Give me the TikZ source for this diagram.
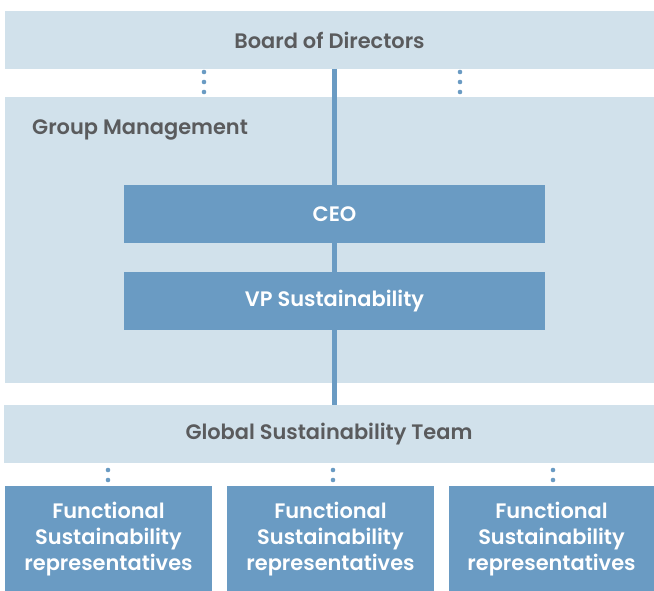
\documentclass[tikz,border=0pt]{standalone}
\usepackage{fontspec}
\setmainfont{Poppins}
\newfontfamily\medfont{Poppins SemiBold}
\definecolor{lightbox}{HTML}{D1E1EB}
\definecolor{darkbox}{HTML}{6A9BC3}
\definecolor{txtgray}{HTML}{5A5B5D}
\begin{document}
\begin{tikzpicture}[x=1bp,y=-1bp,
  lightnode/.style={fill=lightbox,draw=none,inner sep=0pt,text=txtgray,font=\medfont\fontsize{21}{26}\selectfont},
  darknode/.style={fill=darkbox,draw=none,inner sep=0pt,text=white,font=\medfont\fontsize{21}{26}\selectfont},
  stem/.style={draw=darkbox,line width=5bp},
  dotline/.style={draw=darkbox,line width=4.6bp,line cap=round,dash pattern=on 0bp off 10bp}]
\useasboundingbox (0,0) rectangle (654,591);
\node[lightnode,minimum width=649bp,minimum height=58bp] (board) at (329.5,40) {Board of Directors};
\node[lightnode,minimum width=649bp,minimum height=286bp] (gm) at (329.5,240) {};
\node[lightnode,anchor=base west] (gmlabel) at (32,135) {Group Management};
\node[lightnode,minimum width=650bp,minimum height=58bp] (gst) at (329,434) {Global Sustainability Team};
\coordinate (stemtop) at (334.5,69);
\draw[stem] (stemtop) -- (stemtop |- gst.north);
\node[darknode,minimum width=421bp,minimum height=58bp] (ceo) at (334.5,214) {CEO};
\node[darknode,minimum width=421bp,minimum height=58bp] (vp) at (334.5,301) {VP Sustainability};
\node[darknode,minimum width=207bp,minimum height=106bp,align=center] (f1) at (108.5,539) {Functional\\Sustainability\\representatives};
\node[darknode,minimum width=207bp,minimum height=106bp,align=center] (f2) at (330.5,539) {Functional\\Sustainability\\representatives};
\node[darknode,minimum width=205bp,minimum height=106bp,align=center] (f3) at (551.5,539) {Functional\\Sustainability\\representatives};
\coordinate (a1) at (204,72); \coordinate (a2) at (204,92.5);
\coordinate (b1) at (460,72); \coordinate (b2) at (460,92.5);
\draw[dotline] (a1) -- (a2);
\draw[dotline] (b1) -- (b2);
\coordinate (c1) at (108,470); \coordinate (c2) at (108,480.5);
\coordinate (e1) at (333,470); \coordinate (e2) at (333,480.5);
\coordinate (g1) at (553,470); \coordinate (g2) at (553,480.5);
\draw[dotline] (c1) -- (c2);
\draw[dotline] (e1) -- (e2);
\draw[dotline] (g1) -- (g2);
\end{tikzpicture}
\end{document}
